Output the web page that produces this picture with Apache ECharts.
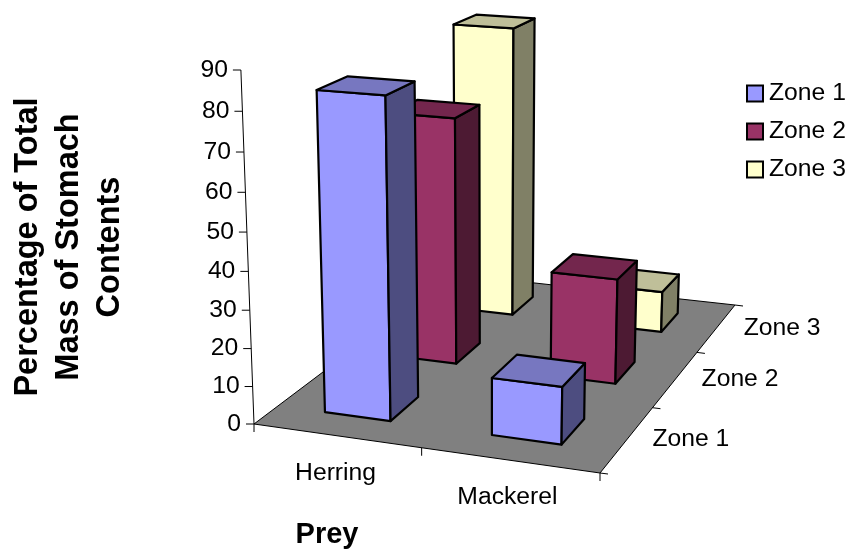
<!DOCTYPE html>
<html><head><meta charset="utf-8">
<script src="https://cdn.jsdelivr.net/npm/echarts@6/dist/echarts.min.js"></script>
<style>html,body{margin:0;padding:0;background:#fff}#c{width:851px;height:550px}</style>
</head><body><div id="c"></div>
<script>
const categories = ['Herring', 'Mackerel'];
const zones = ['Zone 1', 'Zone 2', 'Zone 3'];
const zone1Values = [83.5, 15];
const zone2Values = [68.5, 29];
const zone3Values = [85, 12];
const valueTicks = [0, 10, 20, 30, 40, 50, 60, 70, 80, 90];
const zoneColors = [['#9999FF', '#7777C0', '#4D4D80'], ['#993366', '#73264D', '#4D1A33'], ['#FFFFCC', '#BFBF99', '#808066']];

const FONT = '"Liberation Sans", Arial, sans-serif';
const GL = 147, GT = 70, GW = 360, GH = 354, VMAX = 90;
const A = [254, 424], B = [600, 473], C = [735, 305], D = [453, 274];
const VP = [490, 6800], K = -0.0526;
const BAR = 0.4, BAR_SHIFT = -0.005;

const sx = A[0] - B[0] + C[0] - D[0], sy = A[1] - B[1] + C[1] - D[1];
const dx1 = B[0] - C[0], dx2 = D[0] - C[0], dy1 = B[1] - C[1], dy2 = D[1] - C[1];
const den = dx1 * dy2 - dx2 * dy1;
const hg = (sx * dy2 - dx2 * sy) / den, hh = (dx1 * sy - sx * dy1) / den;
const ha = B[0] - A[0] + hg * B[0], hb = D[0] - A[0] + hh * D[0];
const hd = B[1] - A[1] + hg * B[1], he = D[1] - A[1] + hh * D[1];
function proj(u, w, v) {
  const k = K * v / VMAX;
  const W = hg * u + hh * w + 1 + k;
  return [(ha * u + hb * w + A[0] + k * VP[0]) / W, (hd * u + he * w + A[1] + k * VP[1]) / W];
}
// read the position of a (category, value) through the chart's own axes
function uOf(api, cat) { return (api.coord([cat, 0])[0] - GL) / GW; }
function vOf(api, val) { return (GT + GH - api.coord([0, val])[1]) / GH * VMAX; }

function renderBar(params, api) {
  const cat = api.value(0), val = api.value(1), zi = api.value(2);
  const uc = uOf(api, cat) + BAR_SHIFT, v = vOf(api, val), wc = (zi + 0.5) / zones.length;
  const hu = BAR * 0.5 * 0.5, hw = BAR * 0.5 / zones.length;
  const u0 = uc - hu, u1 = uc + hu, w0 = wc - hw, w1 = wc + hw;
  const col = zoneColors[zi];
  const poly = (pts, fill) => ({
    type: 'polygon',
    shape: { points: pts },
    style: { fill: fill, stroke: '#000', lineWidth: 2.2, lineJoin: 'round' }
  });
  return { type: 'group', children: [
    poly([proj(u0, w0, 0), proj(u1, w0, 0), proj(u1, w0, v), proj(u0, w0, v)], col[0]),
    poly([proj(u1, w0, 0), proj(u1, w1, 0), proj(u1, w1, v), proj(u1, w0, v)], col[2]),
    poly([proj(u0, w0, v), proj(u1, w0, v), proj(u1, w1, v), proj(u0, w1, v)], col[1])
  ]};
}
function renderFloor() {
  return { type: 'group', children: [
    { type: 'polygon', shape: { points: [proj(0,0,0), proj(1,0,0), proj(1,1,0), proj(0,1,0)] },
      style: { fill: '#808080', stroke: '#000', lineWidth: 1 } },
    { type: 'line', shape: { x1: proj(0,0,0)[0], y1: proj(0,0,0)[1], x2: proj(0,0,VMAX)[0], y2: proj(0,0,VMAX)[1] },
      style: { stroke: '#000', lineWidth: 1 } }
  ]};
}
function renderValueTick(params, api) {
  const v = vOf(api, api.value(0));
  const p = proj(0, 0, v);
  return { type: 'group', children: [
    { type: 'line', shape: { x1: p[0] - 8, y1: p[1], x2: p[0], y2: p[1] }, style: { stroke: '#000', lineWidth: 1 } },
    { type: 'text', style: { x: p[0] - 13, y: p[1], text: String(api.value(0)), fill: '#000', align: 'right', verticalAlign: 'middle', font: '24.7px ' + FONT } }
  ]};
}
function renderCatLabel(params, api) {
  const u = uOf(api, api.value(0));
  const p = proj(u, 0, 0);
  return { type: 'text', style: { x: p[0] - 1 - api.value(0), y: p[1] + 37.5, text: categories[api.value(0)], fill: '#000', align: 'center', verticalAlign: 'middle', font: '24.7px ' + FONT } };
}
function renderCatTick(params, api) {
  const u = api.value(0) / categories.length;
  const p = proj(u, 0, 0);
  return { type: 'line', shape: { x1: p[0], y1: p[1], x2: p[0], y2: p[1] + 8 }, style: { stroke: '#000', lineWidth: 1 } };
}
function renderZoneLabel(params, api) {
  const zi = api.value(0);
  const p = proj(1, (zi + 0.5) / zones.length, 0);
  return { type: 'text', style: { x: p[0] + 25 + zi, y: p[1], text: zones[zi], fill: '#000', align: 'left', verticalAlign: 'middle', font: '24.7px ' + FONT } };
}
function renderZoneTick(params, api) {
  const w = api.value(0) / zones.length;
  const p = proj(1, w, 0);
  return { type: 'line', shape: { x1: p[0], y1: p[1], x2: p[0] + 8, y2: p[1] + 1 }, style: { stroke: '#000', lineWidth: 1 } };
}
const barSeries = (zi, values) => ({
  type: 'custom', name: zones[zi], coordinateSystem: 'cartesian2d', renderItem: renderBar, clip: false, silent: true,
  itemStyle: { color: zoneColors[zi][0], borderColor: '#000', borderWidth: 2 },
  encode: { x: 0, y: 1 },
  data: values.map((v, i) => [i, v, zi])
});
const helper = (fn, data) => ({ type: 'custom', coordinateSystem: 'cartesian2d', renderItem: fn, clip: false, silent: true, encode: { x: 0, y: 1 }, data: data });

const chart = echarts.init(document.getElementById('c'), null, { renderer: 'canvas' });
chart.setOption({
  animation: false,
  backgroundColor: '#fff',
  grid: { left: GL, top: GT, width: GW, height: GH, containLabel: false, outerBoundsMode: 'none' },
  xAxis: { type: 'category', data: categories, axisLine: { show: false }, axisTick: { show: false }, axisLabel: { show: false }, splitLine: { show: false },
    name: 'Prey', nameLocation: 'middle', nameGap: 96, nameTextStyle: { fontFamily: FONT, fontSize: 29, fontWeight: 'bold', color: '#000' } },
  yAxis: { type: 'value', min: 0, max: VMAX, interval: 10, axisLine: { show: false }, axisTick: { show: false }, axisLabel: { show: false }, splitLine: { show: false },
    name: 'Percentage of Total\nMass of Stomach\nContents', nameLocation: 'middle', nameRotate: 90, nameGap: 78,
    nameTextStyle: { fontFamily: FONT, fontSize: 32.5, fontWeight: 'bold', color: '#000', lineHeight: 41, align: 'center', verticalAlign: 'middle' } },
  legend: { data: zones, orient: 'vertical', left: 741, top: 76, itemWidth: 16, itemHeight: 16, itemGap: 13, icon: 'rect',
    textStyle: { fontFamily: FONT, fontSize: 24.7, color: '#000', padding: [0, 0, 0, 1] } },
  series: [
    helper(renderFloor, [[0, 0]]),
    helper(renderCatTick, [0, 1, 2].map(i => [i])),
    helper(renderZoneTick, [0, 1, 2, 3].map(i => [i])),
    helper(renderValueTick, valueTicks.map(v => [v])),
    helper(renderCatLabel, categories.map((c, i) => [i])),
    helper(renderZoneLabel, zones.map((z, i) => [i])),
    barSeries(2, zone3Values),
    barSeries(1, zone2Values),
    barSeries(0, zone1Values)
  ]
});
</script></body></html>
